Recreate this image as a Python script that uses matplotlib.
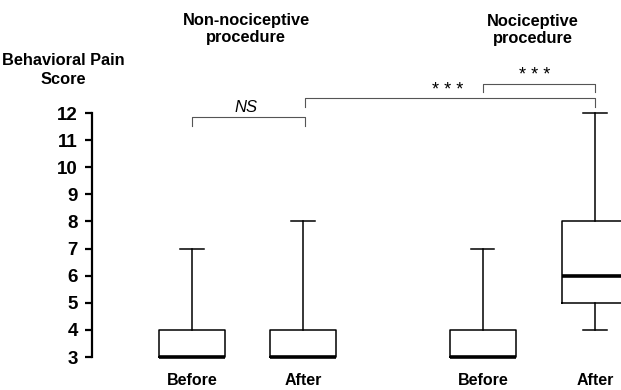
import matplotlib
matplotlib.use("Agg")
import matplotlib.pyplot as plt

plt.rcParams['font.family'] = ['Liberation Sans', 'DejaVu Sans']

# Data
categories = ["Before", "After", "Before", "After"]
mins = [3, 3, 3, 4]
q1s = [3, 3, 3, 5]
medians = [3, 3, 3, 6]
q3s = [4, 4, 4, 8]
maxs = [7, 8, 7, 12]
group_titles = ["Non-nociceptive\nprocedure", "Nociceptive\nprocedure"]
yticks = list(range(3, 13))

positions = [1, 2, 3.62, 4.63]

fig = plt.figure(figsize=(6.21, 3.90), dpi=100)
ax = fig.add_axes([92/621, 1-357/390, 1-92/621, (357-113)/390])

stats = []
for c, lo, a, m, b, hi in zip(categories, mins, q1s, medians, q3s, maxs):
    stats.append(dict(label=c, whislo=lo, q1=a, med=m, q3=b, whishi=hi, fliers=[]))

res = ax.bxp(stats, positions=positions, widths=0.6, showfliers=False,
             boxprops=dict(color='black', linewidth=1.1),
             whiskerprops=dict(color='black', linewidth=1.1),
             capprops=dict(color='black', linewidth=1.1),
             medianprops=dict(color='black', linewidth=2.6, solid_capstyle='butt'),
             capwidths=0.21)
for k in res:
    for art in res[k]:
        art.set_clip_on(False)

ax.set_xlim(1 - 100/111, 1 + (621-192)/111)
ax.set_ylim(3, 12)
ax.set_yticks(yticks)
ax.set_yticklabels([str(t) for t in yticks], fontsize=13.5, fontweight='bold')
ax.tick_params(axis='y', direction='out', length=5, width=1.6, pad=5)
ax.tick_params(axis='x', length=0, pad=11.5)
ax.set_xticks(positions)
ax.set_xticklabels(categories, fontweight='bold', fontsize=11.5)
for s in ['top', 'right', 'bottom']:
    ax.spines[s].set_visible(False)
ax.spines['left'].set_linewidth(1.6)

def bracket(x1, x2, ytop, ybot):
    ax.plot([x1, x1, x2, x2], [ybot, ytop, ytop, ybot], color='#555555',
            linewidth=0.8, clip_on=False)

bracket(1, 2.02, 11.85, 11.52)
bracket(2.02, 4.63, 12.55, 12.22)
bracket(3.62, 4.63, 13.07, 12.78)
ax.text(1.49, 12.2, "NS", style='italic', fontsize=12, ha='center', va='center', clip_on=False)
ax.text(3.30, 12.82, "* * *", fontsize=13, ha='center', va='center', clip_on=False)
ax.text(4.09, 13.38, "* * *", fontsize=13, ha='center', va='center', clip_on=False)

fig.text(246/621, 1-29/390, group_titles[0], ha='center', va='center',
         fontsize=11.8, fontweight='bold', linespacing=1.1)
fig.text(533/621, 1-30/390, group_titles[1], ha='center', va='center',
         fontsize=11.8, fontweight='bold', linespacing=1.1)
fig.text(63/621, 1-70/390, "Behavioral Pain\nScore", ha='center', va='center',
         fontsize=11.8, fontweight='bold', linespacing=1.3)

fig.savefig("out.png", dpi=100)
